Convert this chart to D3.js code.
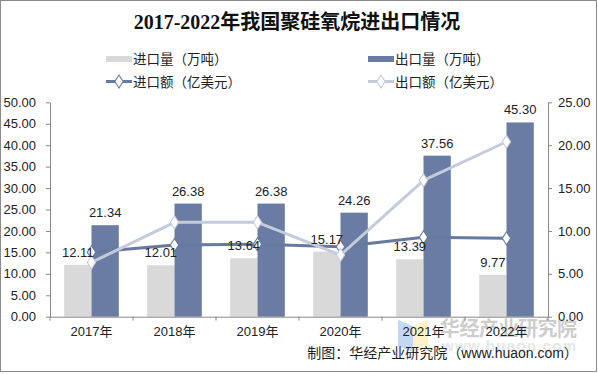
<!DOCTYPE html>
<html><head><meta charset="utf-8">
<script src="https://cdn.jsdelivr.net/npm/d3@7/dist/d3.min.js"></script>
<style>
body{margin:0;background:#fff;}
svg{display:block;}
text{font-family:"Liberation Sans",Arial,"Noto Sans CJK SC",sans-serif;}
</style></head>
<body>
<svg id="c" width="598" height="374"></svg>
<script>
const years = ["2017年","2018年","2019年","2020年","2021年","2022年"];
const importQty = [12.11, 12.01, 13.64, 15.17, 13.39, 9.77];
const exportQty = [21.34, 26.38, 26.38, 24.26, 37.56, 45.30];
const importVal = [7.51, 8.36, 8.44, 8.16, 9.26, 9.14];
const exportVal = [6.34, 11.0, 11.0, 7.19, 15.9, 20.4];
const leftTicks = [0,5,10,15,20,25,30,35,40,45,50];
const rightTicks = [0,5,10,15,20,25];

const svg = d3.select("#c");
const W = 598, H = 374;
const L = 50, R = 548, T = 102.3, B = 316.7;
const grayBar = "#d9d9d9", blueBar = "#6a7ca3", darkLine = "#66799f", lightLine = "#c4cbdc";
const axisCol = "#898989", txt = "#222";

svg.append("rect").attr("x",0.5).attr("y",0.5).attr("width",W-2).attr("height",H-3)
  .attr("fill","#fff").attr("stroke","#8a8a8a").attr("stroke-width",1);

// title
svg.append("text").attr("x",297).attr("y",29).attr("text-anchor","middle")
  .style("font-family",'"Liberation Serif","DejaVu Serif","Noto Sans CJK SC",serif')
  .style("font-weight","bold").style("font-size","20px").attr("fill","#111")
  .text("2017-2022年我国聚硅氧烷进出口情况");

const x = d3.scaleBand().domain(years).range([L,R]).padding(0);
const x1 = d3.scaleBand().domain(["imp","exp"]).range([0,x.bandwidth()]).paddingInner(0).paddingOuter(0.52);
const yL = d3.scaleLinear().domain([0,50]).range([B,T]);
const yR = d3.scaleLinear().domain([0,25]).range([B,T]);

// watermark
const wm = svg.append("g");
wm.append("path").attr("d","M398,320 L413,326 L413,352 L398,346 Z").attr("fill","#b7d2f3").attr("opacity",0.85);
wm.append("path").attr("d","M413,326 L428,320 L428,346 L413,352 Z").attr("fill","#fcf0bb").attr("opacity",0.85);
wm.append("text").attr("x",440).attr("y",336).style("font-family","'Noto Sans CJK SC',sans-serif")
  .style("font-size","20px").style("font-weight","bold").attr("fill","#bdbdbd").attr("opacity",0.75)
  .attr("textLength",137).text("华经产业研究院");
wm.append("text").attr("x",442).attr("y",351).style("font-size","15px").style("font-weight","bold")
  .attr("fill","#d3d3d3").attr("opacity",0.55).attr("textLength",134).text("www.huaon.com");

// bars
const g = svg.append("g");
years.forEach((yr,i)=>{
  g.append("rect").attr("x",x(yr)+x1("imp")).attr("y",yL(importQty[i]))
    .attr("width",x1.bandwidth()).attr("height",B-yL(importQty[i])).attr("fill",grayBar);
  g.append("rect").attr("x",x(yr)+x1("exp")).attr("y",yL(exportQty[i]))
    .attr("width",x1.bandwidth()).attr("height",B-yL(exportQty[i])).attr("fill",blueBar);
});

// axes
const axL = svg.append("g").attr("transform",`translate(${L},0)`)
  .call(d3.axisLeft(yL).tickValues(leftTicks).tickFormat(d3.format(".2f")).tickSize(4).tickSizeOuter(0));
const axR = svg.append("g").attr("transform",`translate(${R},0)`)
  .call(d3.axisRight(yR).tickValues(rightTicks).tickFormat(d3.format(".2f")).tickSize(4).tickSizeOuter(0));
const axB = svg.append("g").attr("transform",`translate(0,${B})`)
  .call(d3.axisBottom(x).tickSize(4).tickSizeOuter(0).tickFormat(d=>d));
axB.selectAll(".tick line").remove();
const bounds = years.map(y=>x(y)).concat([R]);
axB.selectAll(".bt").data(bounds).enter().append("line")
  .attr("x1",d=>d).attr("x2",d=>d).attr("y1",0).attr("y2",4).attr("stroke",axisCol);
[axL,axR,axB].forEach(a=>{
  a.selectAll(".domain").attr("stroke",axisCol);
  a.selectAll(".tick line").attr("stroke",axisCol);
  a.selectAll("text").attr("fill",txt).style("font-size","13px")
    .style("font-family",'"Liberation Sans",Arial,"Noto Sans CJK SC",sans-serif');
});
axL.selectAll(".tick text").attr("x",-14);
axR.selectAll(".tick text").attr("x",10);
axB.selectAll(".tick text").attr("y",10);

// lines
const cx = yr => x(yr)+x.bandwidth()/2;
const lineGen = d3.line().x(d=>cx(d.yr)).y(d=>yR(d.v));
const impPts = years.map((yr,i)=>({yr,v:importVal[i]}));
const expPts = years.map((yr,i)=>({yr,v:exportVal[i]}));
const diamond = d3.symbol().type(d3.symbolDiamond).size(50);
function drawLine(pts,col){
  svg.append("path").datum(pts).attr("d",lineGen).attr("fill","none")
    .attr("stroke",col).attr("stroke-width",3).attr("stroke-linejoin","round");
  svg.selectAll(null).data(pts).enter().append("path").attr("d",diamond)
    .attr("transform",d=>`translate(${cx(d.yr)},${yR(d.v)}) scale(1.1,1)`)
    .attr("fill","#fff").attr("stroke",col).attr("stroke-width",1);
}
drawLine(impPts, darkLine);
drawLine(expPts, lightLine);

// value labels
years.forEach((yr,i)=>{
  svg.append("text").attr("x",x(yr)+x1("imp")+x1.bandwidth()/2).attr("y",yL(importQty[i])-8)
    .attr("text-anchor","middle").style("font-size","13px").attr("fill",txt).text(importQty[i].toFixed(2));
  svg.append("text").attr("x",x(yr)+x1("exp")+x1.bandwidth()/2).attr("y",yL(exportQty[i])-8)
    .attr("text-anchor","middle").style("font-size","13px").attr("fill",txt).text(exportQty[i].toFixed(2));
});

// legend
const leg = svg.append("g").style("font-size","13.5px");
function legText(xp,yp,t){
  leg.append("text").attr("x",xp).attr("y",yp+5).attr("fill",txt)
    .style("font-family",'"Noto Sans CJK SC",sans-serif').text(t);
}
leg.append("rect").attr("x",106).attr("y",56).attr("width",26).attr("height",6).attr("fill",grayBar);
legText(133,59,"进口量（万吨）");
leg.append("rect").attr("x",368).attr("y",56).attr("width",26).attr("height",6).attr("fill",blueBar);
legText(395,59,"出口量（万吨）");
function legLine(x0,yy,col){
  leg.append("line").attr("x1",x0).attr("x2",x0+26).attr("y1",yy).attr("y2",yy)
    .attr("stroke",col).attr("stroke-width",3);
  leg.append("path").attr("d",diamond).attr("transform",`translate(${x0+13},${yy}) scale(1.1,1)`)
    .attr("fill","#fff").attr("stroke",col).attr("stroke-width",1);
}
legLine(106,81.5,darkLine);
legText(133,81.5,"进口额（亿美元）");
legLine(368,81.5,lightLine);
legText(395,81.5,"出口额（亿美元）");

// footer
svg.append("text").attr("x",578).attr("y",358).attr("text-anchor","end")
  .style("font-size","14px").attr("fill",txt)
  .style("font-family",'"Liberation Sans",Arial,"Noto Sans CJK SC",sans-serif')
  .text("制图：华经产业研究院（www.huaon.com）");
</script>
</body></html>
